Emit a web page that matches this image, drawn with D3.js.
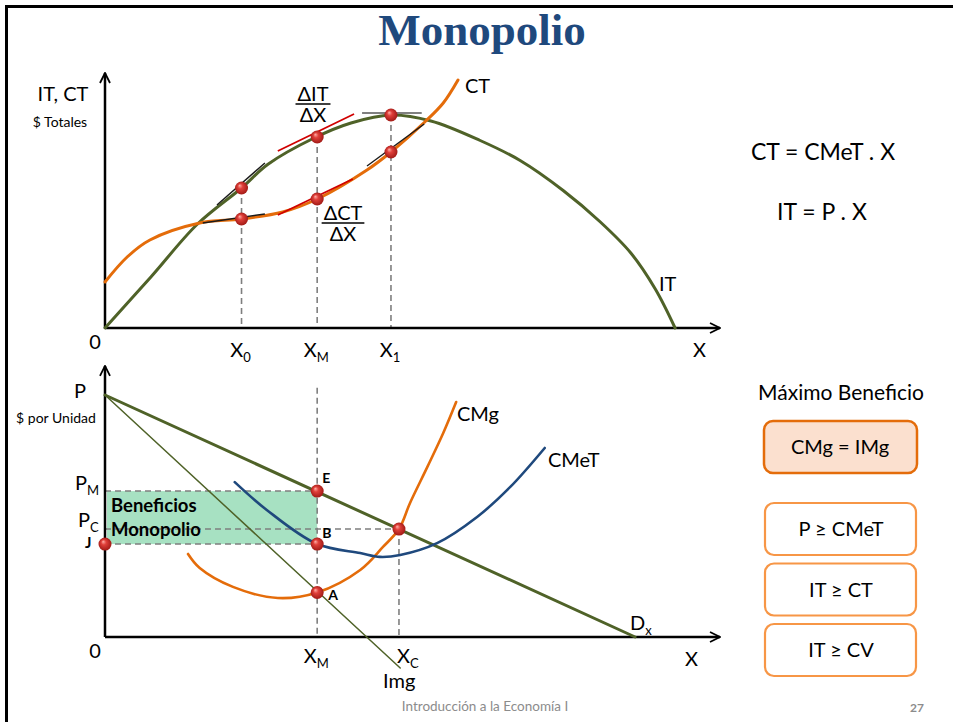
<!DOCTYPE html>
<html>
<head>
<meta charset="utf-8">
<script src="https://cdn.jsdelivr.net/npm/d3@7"></script>
<style>
	body {margin: 0; background: #fff;}
	text {font-family: Lato, "Open Sans", sans-serif; fill: #000;}
</style>
</head>
<body>
<svg id="grafico" width="953" height="722"></svg>
<script>
// ---- datos (unidades del grafico) ----
// panel superior: ingreso total y costo total
const itX = [0, 0.75, 1.5, 2.22, 2.65, 3.4, 4.0, 4.65, 5.3, 6.1, 6.75, 7.45, 8.05, 8.55, 8.95, 9.27];
const itY = [0, 2.05, 4.15, 5.6, 6.55, 7.6, 8.2, 8.52, 8.28, 7.5, 6.7, 5.5, 4.25, 3.0, 1.55, 0];
const ctX = [0, 0.36, 0.73, 1.54, 2.22, 2.89, 3.45, 4.26, 4.65, 5.2, 5.5, 5.74];
const ctY = [1.84, 2.84, 3.52, 4.2, 4.36, 4.64, 5.16, 6.32, 7.04, 8.24, 9.0, 9.92];
// cantidades marcadas en el eje X
const cantidades = {x0: 2.22, xM: 3.45, x1: 4.65, xC: 4.78};
// puntos sobre IT y CT en X0, XM, X1
const puntosIT = [[2.22, 5.6], [3.45, 7.64], [4.65, 8.52]];
const puntosCT = [[2.22, 4.36], [3.45, 5.16], [4.65, 7.04]];
// tangentes [x1, y1, x2, y2]
const tangentesNegras = [[1.82, 4.92, 2.6, 6.6], [1.59, 4.2, 2.6, 4.56], [4.26, 6.48, 5.19, 8.16]];
const tangentesRojas = [[2.81, 7.08, 4.05, 8.56], [2.81, 4.52, 4.03, 5.96]];
const tangentesGrises = [[4.18, 8.6, 5.15, 8.6]];

// panel inferior: precios y costos por unidad
const demandaX = [0, 8.62];
const demandaY = [10, 0];
const imgX = [0, 4.8];
const imgY = [10, -1.28];
const cmgX = [1.35, 1.54, 2.08, 2.81, 3.45, 4.15, 4.52, 4.78, 4.96, 5.24, 5.5, 5.71];
const cmgY = [3.43, 2.85, 2.07, 1.61, 1.84, 2.77, 3.72, 4.46, 5.54, 7.02, 8.43, 9.71];
const cmetX = [2.11, 2.63, 3.45, 4.15, 4.47, 4.8, 5.4, 6.05, 6.59, 7.15];
const cmetY = [6.4, 5.25, 3.84, 3.47, 3.31, 3.39, 3.88, 4.96, 6.2, 7.81];
const precios = {pM: 6.03, pC: 4.46, j: 3.84, a: 1.84};
const condiciones = ['P ≥ CMeT', 'IT ≥ CT', 'IT ≥ CV'];

const svg = d3.select('#grafico');
const defs = svg.append('defs');

// escalas
const x = d3.scaleLinear().domain([0, 10]).range([105, 720]);
const yArr = d3.scaleLinear().domain([0, 10]).range([328, 78]);
const yAba = d3.scaleLinear().domain([0, 10]).range([637, 395]);

const VERDE = '#4f6228', NARANJA = '#e46c0a', AZUL = '#1f497d', GRIS = '#7f7f7f';

// flecha abierta para los ejes
defs.append('marker')
	.attr('id', 'flecha').attr('viewBox', '0 0 12 12')
	.attr('refX', 11).attr('refY', 6)
	.attr('markerWidth', 12).attr('markerHeight', 12)
	.attr('markerUnits', 'userSpaceOnUse').attr('orient', 'auto')
	.append('path').attr('d', 'M1,1 L11,6 L1,11')
	.attr('fill', 'none').attr('stroke', '#000').attr('stroke-width', 1.8);

// bolita roja con brillo
let grad = defs.append('radialGradient').attr('id', 'bola')
	.attr('cx', '50%').attr('cy', '50%').attr('r', '55%').attr('fx', '35%').attr('fy', '30%');
grad.append('stop').attr('offset', '0%').attr('stop-color', '#ffb0a8');
grad.append('stop').attr('offset', '35%').attr('stop-color', '#e0403a');
grad.append('stop').attr('offset', '100%').attr('stop-color', '#9a1612');

// marco de la diapositiva
svg.append('path').attr('d', 'M6.5,722 V6.5 H953')
	.attr('fill', 'none').attr('stroke', '#000').attr('stroke-width', 3);

svg.append('text').text('Monopolio')
	.attr('x', 482).attr('y', 45).attr('text-anchor', 'middle')
	.style('font-family', '"Liberation Serif", serif').style('font-weight', 'bold')
	.style('font-size', '45px').style('fill', AZUL);

const zip = (xs, ys) => xs.map((v, i) => [v, ys[i]]);

function curva(g, datos, ys, color, ancho, tipo) {
	let line = d3.line()
		.x((d) => {return x(d[0]);})
		.y((d) => {return ys(d[1]);})
		.curve(tipo || d3.curveCatmullRom.alpha(0.5));
	g.append('path').attr('d', line(datos))
		.attr('fill', 'none').attr('stroke', color)
		.attr('stroke-width', ancho).attr('stroke-linecap', 'round');
}

function guion(g, x1, y1, x2, y2) {
	g.append('line').attr('x1', x1).attr('y1', y1).attr('x2', x2).attr('y2', y2)
		.attr('stroke', GRIS).attr('stroke-width', 1.6).attr('stroke-dasharray', '6,4');
}

function bolas(g, datos, ys) {
	g.selectAll(null).data(datos).enter().append('circle')
		.attr('cx', (d) => x(d[0])).attr('cy', (d) => ys(d[1]))
		.attr('r', 6.5).attr('fill', 'url(#bola)');
}

function texto(g, t, px, py, size, opts) {
	opts = opts || {};
	let el = g.append('text').attr('x', px).attr('y', py)
		.attr('text-anchor', opts.anchor || 'start')
		.style('font-size', size + 'px');
	if (opts.bold) el.style('font-weight', 'bold');
	if (opts.sub) {
		el.append('tspan').text(t);
		el.append('tspan').text(opts.sub).attr('dy', 5).style('font-size', (size * 0.65) + 'px');
	} else {
		el.text(t);
	}
	return el;
}

function ejes(g, ys, top) {
	g.append('line').attr('x1', x(0)).attr('y1', ys(0)).attr('x2', x(0)).attr('y2', ys(top))
		.attr('stroke', '#000').attr('stroke-width', 2.5).attr('marker-end', 'url(#flecha)');
	g.append('line').attr('x1', x(0)).attr('y1', ys(0)).attr('x2', x(10)).attr('y2', ys(0))
		.attr('stroke', '#000').attr('stroke-width', 2.5).attr('marker-end', 'url(#flecha)');
}

// ===== panel superior =====
const arriba = svg.append('g');
puntosIT.forEach((d) => guion(arriba, x(d[0]), yArr(d[1]), x(d[0]), yArr(0)));
ejes(arriba, yArr, 10.2);
curva(arriba, zip(itX, itY), yArr, VERDE, 3);
curva(arriba, zip(ctX, ctY), yArr, NARANJA, 3);

function tangentes(datos, color, ancho) {
	arriba.selectAll(null).data(datos).enter().append('line')
		.attr('x1', (d) => x(d[0])).attr('y1', (d) => yArr(d[1]))
		.attr('x2', (d) => x(d[2])).attr('y2', (d) => yArr(d[3]))
		.attr('stroke', color).attr('stroke-width', ancho);
}
tangentes(tangentesNegras, '#1a1a1a', 1.4);
tangentes(tangentesRojas, '#d00000', 1.8);
tangentes(tangentesGrises, '#808080', 2);
bolas(arriba, puntosIT, yArr);
bolas(arriba, puntosCT, yArr);

texto(arriba, 'IT, CT', 63, 101, 20, {anchor: 'middle'});
texto(arriba, '$ Totales', 60, 127, 14, {anchor: 'middle'});
texto(arriba, '0', 95, 349, 20, {anchor: 'middle'});
texto(arriba, 'X', x(cantidades.x0) - 1, 357, 20, {anchor: 'middle', sub: '0'});
texto(arriba, 'X', x(cantidades.xM) - 1, 357, 20, {anchor: 'middle', sub: 'M'});
texto(arriba, 'X', x(cantidades.x1) - 1, 357, 20, {anchor: 'middle', sub: '1'});
texto(arriba, 'X', 693, 357, 20);
texto(arriba, 'CT', 465, 93, 20);
texto(arriba, 'IT', 659, 291, 20);

function fraccion(g, num, den, cx, yBase) {
	let t = texto(g, num, cx, yBase, 20, {anchor: 'middle'});
	let w = t.node().getComputedTextLength();
	g.append('line').attr('x1', cx - w / 2 - 2).attr('x2', cx + w / 2 + 2)
		.attr('y1', yBase + 3).attr('y2', yBase + 3).attr('stroke', '#000').attr('stroke-width', 1.3);
	texto(g, den, cx, yBase + 21, 20, {anchor: 'middle'});
}
fraccion(arriba, 'ΔIT', 'ΔX', 313, 101);
fraccion(arriba, 'ΔCT', 'ΔX', 343, 220);

texto(svg, 'CT = CMeT . X', 823, 160, 23, {anchor: 'middle'});
texto(svg, 'IT = P . X', 822, 220, 23, {anchor: 'middle'});

// ===== panel inferior =====
const abajo = svg.append('g');
let xm = x(cantidades.xM), xc = x(cantidades.xC);
abajo.append('rect')
	.attr('x', x(0) + 2).attr('y', yAba(precios.pM))
	.attr('width', xm - x(0) - 2).attr('height', yAba(precios.j) - yAba(precios.pM))
	.attr('fill', '#a7e1c2');
guion(abajo, x(0), yAba(precios.pM), xm, yAba(precios.pM));
guion(abajo, x(0), yAba(precios.pC), xc, yAba(precios.pC));
guion(abajo, x(0), yAba(precios.j), xm, yAba(precios.j));
guion(abajo, xm, yAba(10.3), xm, yAba(0));
guion(abajo, xc, yAba(precios.pC), xc, yAba(0));
ejes(abajo, yAba, 11.2);

curva(abajo, zip(demandaX, demandaY), yAba, VERDE, 3, d3.curveLinear);
curva(abajo, zip(imgX, imgY), yAba, VERDE, 1.5, d3.curveLinear);
curva(abajo, zip(cmgX, cmgY), yAba, NARANJA, 2.6);
curva(abajo, zip(cmetX, cmetY), yAba, AZUL, 2.6);

bolas(abajo, [
	[cantidades.xM, precios.pM],
	[cantidades.xM, precios.j],
	[cantidades.xM, precios.a],
	[0, precios.j],
	[cantidades.xC, precios.pC]
], yAba);

texto(abajo, 'Beneficios', 111, 512, 18.5, {bold: true});
texto(abajo, 'Monopolio', 111, 536, 18.5, {bold: true});
texto(abajo, 'E', xm + 5, 483, 14, {bold: true});
texto(abajo, 'B', xm + 5, 538, 14, {bold: true});
texto(abajo, 'A', xm + 11, 600, 14, {bold: true});

texto(abajo, 'P', 80, 398, 20, {anchor: 'middle'});
texto(abajo, '$ por Unidad', 56, 423, 14, {anchor: 'middle'});
texto(abajo, 'P', 75, 490, 20, {sub: 'M'});
texto(abajo, 'P', 78, 527, 20, {sub: 'C'});
texto(abajo, 'J', 85, 548, 15, {bold: true});
texto(abajo, '0', 95, 658, 20, {anchor: 'middle'});
texto(abajo, 'X', xm - 1, 663, 20, {anchor: 'middle', sub: 'M'});
texto(abajo, 'X', xc - 2, 663, 20, {sub: 'C'});
texto(abajo, 'Img', 383, 688, 20);
texto(abajo, 'X', 685, 666, 20);
texto(abajo, 'D', 630, 630, 20, {sub: 'x'});
texto(abajo, 'CMg', 457, 421, 20);
texto(abajo, 'CMeT', 548, 467, 20);

// ===== recuadros de la derecha =====
const lado = svg.append('g');
texto(lado, 'Máximo Beneficio', 841, 400, 21, {anchor: 'middle'});
lado.append('rect').attr('x', 764).attr('y', 421).attr('width', 153).attr('height', 52)
	.attr('rx', 9).attr('fill', '#fbe0cf').attr('stroke', NARANJA).attr('stroke-width', 2.5);
texto(lado, 'CMg = IMg', 840, 454, 20, {anchor: 'middle'});
let cajas = lado.selectAll(null).data(condiciones).enter().append('g')
	.attr('transform', (d, i) => 'translate(765,' + (503 + i * 60.5) + ')');
cajas.append('rect').attr('width', 151).attr('height', 52).attr('rx', 9)
	.attr('fill', '#fff').attr('stroke', '#f79646').attr('stroke-width', 2.2);
cajas.append('text').text((d) => d).attr('x', 76).attr('y', 33)
	.attr('text-anchor', 'middle').style('font-size', '20px');

// pie de pagina
svg.append('text').text('Introducción a la Economía I')
	.attr('x', 485).attr('y', 711).attr('text-anchor', 'middle')
	.style('font-size', '13.5px').style('fill', '#8c8c8c');
svg.append('text').text('27')
	.attr('x', 917).attr('y', 712).attr('text-anchor', 'middle')
	.style('font-size', '12px').style('font-weight', 'bold').style('fill', '#8c8c8c');
</script>
</body>
</html>
